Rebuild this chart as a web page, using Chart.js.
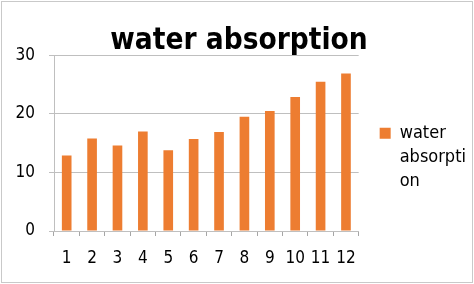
<!DOCTYPE html>
<html>
<head>
    <title>water absorption</title>
    <script src="https://cdn.jsdelivr.net/npm/chart.js"></script>
    <style>
        body { margin: 0; background: #fff; }
        .frame { position: absolute; left: 1px; top: 1px; width: 470px; height: 280px; border: 1px solid #c9c9c9; }
        canvas { display: block; }
    </style>
</head>
<body>
    <div class="frame">
        <canvas id="chart" width="470" height="280"></canvas>
    </div>

    <script>
        // Data
        const categories = ['1', '2', '3', '4', '5', '6', '7', '8', '9', '10', '11', '12'];
        const waterAbsorption = [12.9, 15.8, 14.6, 17.0, 13.8, 15.7, 16.9, 19.5, 20.5, 22.9, 25.5, 26.9];
        const yTicks = [0, 10, 20, 30];
        const seriesName = 'water absorption';
        const legendLines = ['water', 'absorpti', 'on'];

        const font = "'DejaVu Sans Condensed', 'DejaVu Sans', sans-serif";

        const ctx = document.getElementById('chart').getContext('2d');
        const chart = new Chart(ctx, {
            type: 'bar',
            data: {
                labels: categories,
                datasets: [{
                    label: seriesName,
                    data: waterAbsorption,
                    backgroundColor: '#ED7D31',
                    barPercentage: 0.38,
                    categoryPercentage: 1.0
                }]
            },
            options: {
                responsive: false,
                animation: false,
                layout: { padding: { left: 0, right: -4, top: 0, bottom: 0 } },
                plugins: {
                    title: {
                        display: true,
                        text: 'water absorption',
                        color: '#000',
                        font: { family: font, size: 29.5, weight: 'bold' },
                        padding: { top: 22, bottom: -4 }
                    },
                    legend: {
                        position: 'right',
                        align: 'start',
                        title: { display: true, text: ' ', padding: 41, font: { size: 16 } },
                        labels: {
                            color: '#000',
                            font: { family: font, size: 18, lineHeight: 1.34 },
                            boxWidth: 11,
                            boxHeight: 11,
                            padding: 21,
                            generateLabels: function(c) {
                                return c.data.datasets.map((ds, i) => ({
                                    text: legendLines,
                                    fillStyle: ds.backgroundColor,
                                    strokeStyle: ds.backgroundColor,
                                    fontColor: '#000',
                                    lineWidth: 0,
                                    datasetIndex: i
                                }));
                            }
                        }
                    },
                    tooltip: { enabled: false }
                },
                scales: {
                    x: {
                        afterFit: function(scale) { scale.height = 51; },
                        grid: {
                            drawOnChartArea: false,
                            drawTicks: true,
                            tickLength: 5,
                            color: '#a6a6a6'
                        },
                        border: { color: '#bfbfbf' },
                        ticks: {
                            color: '#000',
                            font: { family: font, size: 17 },
                            padding: 12,
                            maxRotation: 0,
                            autoSkip: false
                        }
                    },
                    y: {
                        min: 0,
                        max: 30,
                        afterBuildTicks: function(scale) {
                            scale.ticks = yTicks.map(v => ({ value: v }));
                        },
                        afterFit: function(scale) { scale.width = 52; },
                        grid: { color: '#bfbfbf', tickLength: 5 },
                        border: { color: '#bfbfbf' },
                        ticks: {
                            color: '#000',
                            font: { family: font, size: 17 },
                            padding: 14
                        }
                    }
                }
            }
        });
    </script>
</body>
</html>
